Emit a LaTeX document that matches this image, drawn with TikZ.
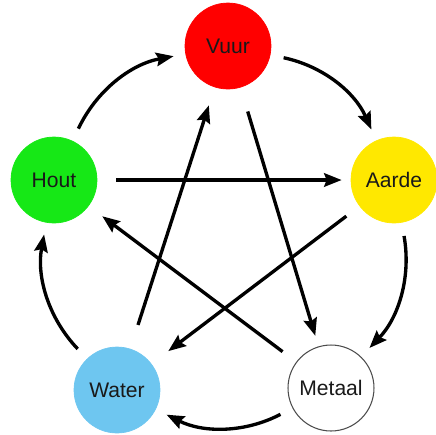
\documentclass[tikz,border=0pt]{standalone}
\usepackage{fontspec}
\setmainfont{Liberation Sans}
\usetikzlibrary{arrows.meta, positioning}
\definecolor{vuurred}{RGB}{255,0,0}
\definecolor{houtgreen}{RGB}{22,232,22}
\definecolor{aardeyellow}{RGB}{255,232,0}
\definecolor{waterblue}{RGB}{110,198,240}
\tikzset{
  %% Element circle
  elem/.style={
    circle, fill=#1, draw=#1,
    minimum size=1.72cm, inner sep=0pt,
    text=black!90, font=\fontsize{12}{14}\selectfont
  },
  elem/.default=white,
  %% Arrow
  arr/.style={-{Stealth[length=3.5mm,width=2.7mm,inset=0.5mm]},
              draw=black, line width=1.9pt},
}
\begin{document}
\begin{tikzpicture}[x=0.02cm, y=-0.02cm]
  \useasboundingbox (0,0) rectangle (436,434);

  %% ---- Elements ----
  \node[elem=vuurred]     (vuur)   at (228,46)  {Vuur};
  \node[elem=houtgreen]   (hout)   at (54,180)  {Hout};
  \node[elem=aardeyellow] (aarde)  at (394,180) {Aarde};
  \node[elem=waterblue]   (water)  at (117,390) {Water};
  \node[elem, draw=black!70, line width=0.6pt] (metaal) at (331,388) {Metaal};

  %% ---- Outer cycle ----
  \foreach \a/\b in {hout/vuur, vuur/aarde, aarde/metaal, metaal/water, water/hout}
    \draw[arr, shorten <=0.27cm, shorten >=0.24cm] (\a) to[bend left=27] (\b);

  %% ---- Inner star ----
  \foreach \a/\b/\s/\e in {hout/aarde/0.38/0.18, aarde/water/0.33/0.42,
                           water/vuur/0.50/0.38, vuur/metaal/0.50/0.22,
                           metaal/hout/0.34/0.34}
    \draw[arr, shorten <=\s cm, shorten >=\e cm] (\a) -- (\b);

\end{tikzpicture}
\end{document}
